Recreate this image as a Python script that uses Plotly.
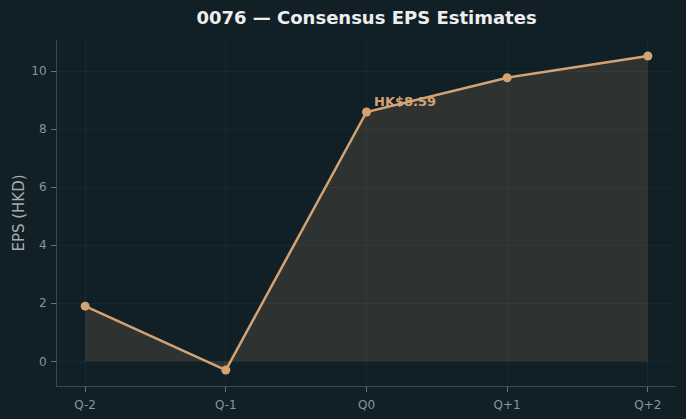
import plotly.graph_objects as go

quarters = ["Q-2", "Q-1", "Q0", "Q+1", "Q+2"]
eps = [1.9, -0.3, 8.59, 9.77, 10.52]
title = "0076 — Consensus EPS Estimates"
ylabel = "EPS (HKD)"
annot_text = "HK$8.59"
annot_idx = 2

BG = "#112027"
LINE = "#d4a373"
xs = list(range(len(quarters)))

fig = go.Figure()
fig.add_trace(go.Scatter(
    x=xs, y=eps, mode="lines+markers",
    line=dict(color=LINE, width=2.5),
    marker=dict(size=9, color=LINE),
    fill="tozeroy", fillcolor="rgba(212,163,115,0.15)",
    hoverinfo="skip", showlegend=False,
))
fig.add_annotation(
    x=xs[annot_idx], y=eps[annot_idx], text=f"<b>{annot_text}</b>",
    showarrow=False, xanchor="left", yanchor="bottom",
    xshift=5, yshift=1,
    font=dict(family="DejaVu Sans", size=13, color=LINE),
)
fig.update_layout(
    width=686, height=419,
    paper_bgcolor=BG, plot_bgcolor=BG,
    margin=dict(l=57, r=10, t=40, b=33),
    title=dict(text=f"<b>{title}</b>", x=0.5, xref="paper", y=0.957, yanchor="middle",
               font=dict(family="DejaVu Sans", size=18, color="#eeeeee")),
    font=dict(family="DejaVu Sans"),
)
fig.update_xaxes(
    range=[-0.2, 4.2], tickvals=xs, ticktext=quarters, automargin=False,
    showgrid=True, gridcolor="rgba(255,255,255,0.035)", gridwidth=1, zeroline=False,
    showline=True, linecolor="#3c4a4f", linewidth=1,
    ticks="outside", ticklen=5, tickcolor="#6b777b", ticklabelstandoff=3,
    tickfont=dict(size=12, color="#8a9599"),
)
fig.update_yaxes(
    range=[-0.85, 11.07], tickvals=[0, 2, 4, 6, 8, 10], automargin=False,
    showgrid=True, gridcolor="rgba(255,255,255,0.035)", gridwidth=1, zeroline=False,
    showline=True, linecolor="#3c4a4f", linewidth=1,
    ticks="outside", ticklen=5, tickcolor="#6b777b", ticklabelstandoff=2,
    tickfont=dict(size=12, color="#8a9599"),
    title=dict(text=ylabel, font=dict(size=15, color="#a4adb0"), standoff=3),
)
fig.write_html("out.html")
